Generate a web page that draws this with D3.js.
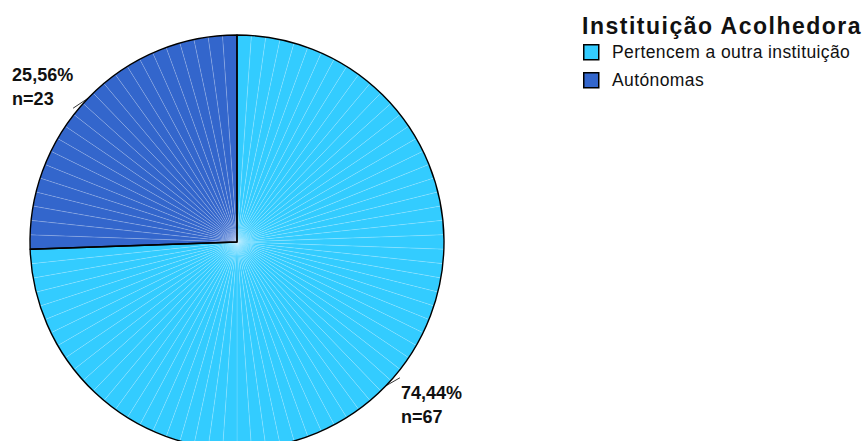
<!DOCTYPE html>
<html>
<head>
<meta charset="utf-8">
<title>Instituição Acolhedora</title>
<style>
body { margin: 0; background: #fff; }
text { font-family: Arial, "Liberation Sans", sans-serif; }
</style>
</head>
<body>
<svg width="867" height="441"></svg>
<script src="https://d3js.org/d3.v7.min.js"></script>
<script>
// data
var categories = ["Pertencem a outra instituição", "Autónomas"];
var counts = [67, 23];
var colors = ["#33CCFF", "#3366CC"];
var legendTitle = "Instituição Acolhedora";

var svg = d3.select("svg");
var cx = 237, cy = 242, radius = 207;
var total = d3.sum(counts);

// one thin slice per case, like the original
var units = [];
categories.forEach(function(c, i) {
    for (var k = 0; k < counts[i]; k++) units.push({cat: i});
});

var pie = d3.pie().sort(null).value(function() { return 1; });
var arc = d3.arc().innerRadius(0).outerRadius(radius);
var g = svg.append("g").attr("transform", "translate(" + cx + "," + cy + ")");

g.selectAll(".slice")
    .data(pie(units))
    .enter()
    .append("path")
    .attr("d", arc)
    .style("fill", function(d) { return colors[d.data.cat]; })
    .style("stroke", "#ffffff")
    .style("stroke-opacity", 0.25)
    .style("stroke-width", 0.6);

// category boundaries + outline
var catPie = d3.pie().sort(null)(counts);
g.selectAll(".cat")
    .data(catPie)
    .enter()
    .append("path")
    .attr("d", arc)
    .style("fill", "none")
    .style("stroke", "#000")
    .style("stroke-width", 1.4)
    .style("stroke-linejoin", "round");

// labels
var fmt = function(v) { return (v * 100).toFixed(2).replace(".", ",") + "%"; };
var labelOffsets = [{lx: 14, ly: -8, tx: 15, ty: 13}, {lx: -15, ly: 10, tx: -76, ty: -17}];

catPie.forEach(function(d, i) {
    var a = (d.startAngle + d.endAngle) / 2;
    var ex = radius * Math.sin(a), ey = -radius * Math.cos(a);
    var o = labelOffsets[i];
    g.append("line")
        .attr("x1", ex).attr("y1", ey)
        .attr("x2", ex + o.lx).attr("y2", ey + o.ly)
        .style("stroke", "#000").style("stroke-width", 0.8);
    var t = g.append("text")
        .attr("x", ex + o.tx).attr("y", ey + o.ty)
        .style("font-size", "18px").style("font-weight", "bold")
        .style("fill", "#111");
    t.append("tspan").attr("x", ex + o.tx).text(fmt(counts[i] / total));
    t.append("tspan").attr("x", ex + o.tx).attr("dy", 24).text("n=" + counts[i]);
});

// legend
var lg = svg.append("g").attr("transform", "translate(582,0)");
lg.append("text")
    .attr("x", 0).attr("y", 34)
    .style("font-size", "23px").style("font-weight", "bold")
    .style("letter-spacing", "1.5px")
    .style("fill", "#111")
    .text(legendTitle);

var item = lg.selectAll(".item")
    .data(categories)
    .enter()
    .append("g")
    .attr("transform", function(d, i) { return "translate(1," + (44 + i * 28) + ")"; });
item.append("rect")
    .attr("x", 0.75).attr("y", 0.75)
    .attr("width", 15).attr("height", 15)
    .style("fill", function(d, i) { return colors[i]; })
    .style("stroke", "#000").style("stroke-width", 1.5);
item.append("text")
    .attr("x", 29).attr("y", 14)
    .style("font-size", "17.5px")
    .style("letter-spacing", "0.4px")
    .style("fill", "#111")
    .text(function(d) { return d; });
</script>
</body>
</html>
